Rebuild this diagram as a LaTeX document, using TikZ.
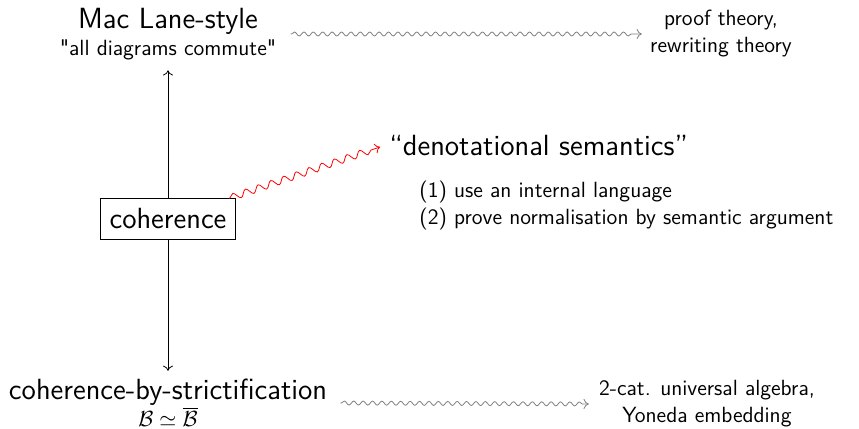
\documentclass[tikz,border=0pt]{standalone}
\usepackage{fontspec}
\usepackage{amsmath,amssymb}
\usetikzlibrary{decorations.pathmorphing,calc,arrows.meta}
\newcommand\bigf{\fontsize{14.6}{17}\selectfont}
\newcommand\smf{\fontsize{11}{13.5}\selectfont}
\newcommand\strq{\XeTeXglyph\XeTeXglyphindex "quotedbl"\relax}
\begin{document}
\begin{tikzpicture}[x=0.5pt,y=-0.5pt,
  every node/.style={font=\sffamily\smf, inner sep=3pt},
  lbl/.style={align=center},
  tip/.style={-{Computer Modern Rightarrow[length=2.6pt,width=5pt]}},
  sq/.style={tip, gray, decorate, decoration={snake, amplitude=1pt, segment length=4.7pt, pre length=0.5pt, post length=3pt}},
  redsq/.style={tip, red, decorate, decoration={snake, amplitude=1.7pt, segment length=6.7pt, pre length=0.5pt, post length=3.5pt}},
  ]
\useasboundingbox (0,0) rectangle (859,429);
\node[lbl] (mac) at (168,34) {{\bigf Mac Lane-style}\\\strq all diagrams commute\strq};
\node[lbl] (proof) at (721,34) {proof theory,\\rewriting theory};
\node[draw, font=\sffamily\bigf, inner xsep=4.5pt, inner ysep=5pt] (coh) at (168,219) {coherence};
\node[lbl] (strict) at (168,403) {{\bigf coherence-by-strictification}\\$\mathcal{B}\simeq\overline{\mathcal{B}}$};
\node[lbl] (yon) at (707,404) {2-cat. universal algebra,\\Yoneda embedding};
\node[font=\sffamily\bigf, anchor=west] (den) at (383,146) {``denotational semantics''};
\node[align=left, anchor=north west] (list) at (413,175) {(1) use an internal language\\(2) prove normalisation by semantic argument};
\coordinate (macout) at ([xshift=4pt]mac.east);
\coordinate (proofin) at ([xshift=-1pt]proof.west);
\coordinate (strout) at ([xshift=3.5pt]strict.east);
\coordinate (yonin) at ([xshift=-2pt]yon.west);
\draw[tip, shorten >=2pt] (coh) -- (mac);
\draw[tip, shorten >=1pt] (coh) -- (strict);
\draw[sq] (macout) -- (proofin);
\draw[sq] (strout) -- (yonin);
\draw[redsq, shorten >=1.5pt] (coh) -- (den.west);
\end{tikzpicture}
\end{document}
